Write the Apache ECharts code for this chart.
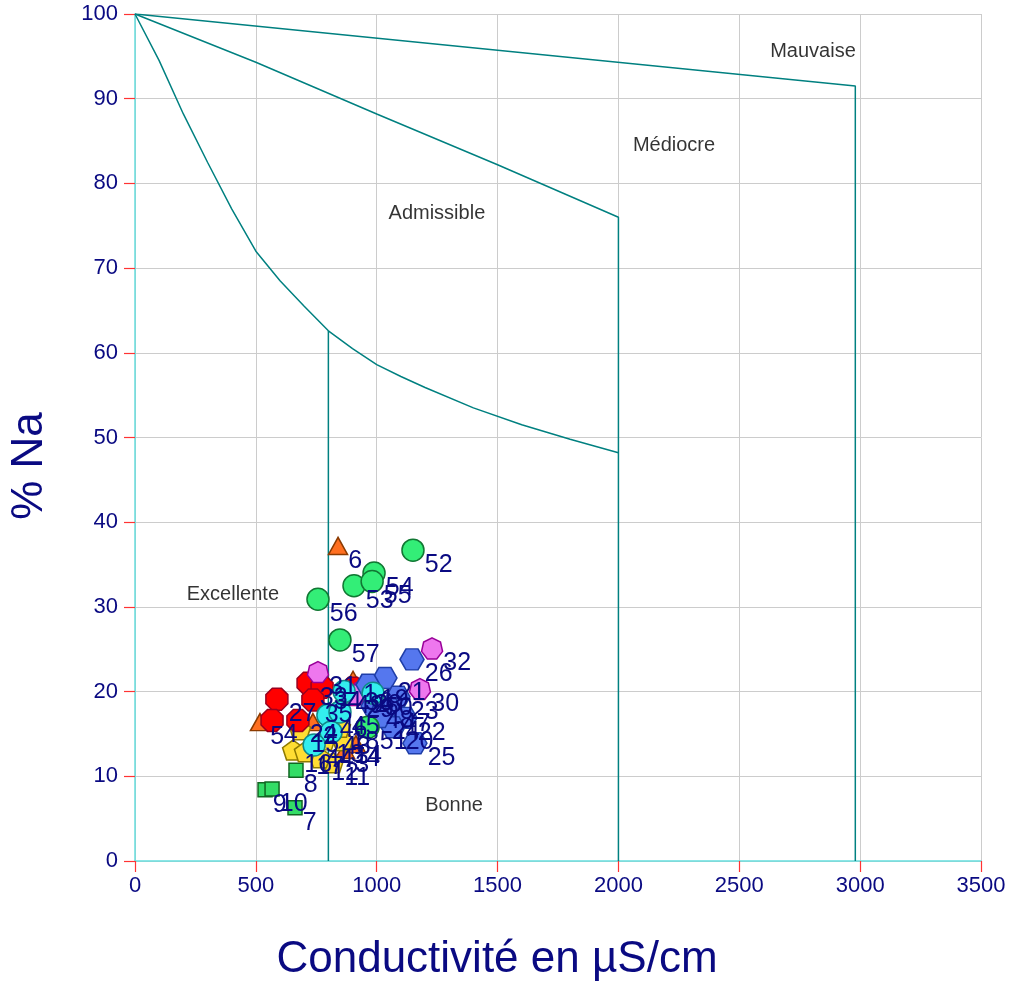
<!DOCTYPE html>
<html><head><meta charset="utf-8">
<script src="https://cdn.jsdelivr.net/npm/echarts@6/dist/echarts.min.js"></script>
<style>html,body{margin:0;padding:0;background:#fff}#c{width:1014px;height:989px}</style>
</head><body><div id="c"></div>
<script>
// ---- data ----
const xTicks = [0,500,1000,1500,2000,2500,3000,3500];
const yTicks = [0,10,20,30,40,50,60,70,80,90,100];
const xTitle = 'Conductivité en µS/cm';
const yTitle = '% Na';

const triX = [902, 736, 869, 914, 517, 840];
const triY = [21.4, 16.4, 13.1, 13.8, 16.4, 37.2];
const triLab = ['1','2','3','4','5','6'];

const sqX = [662, 666, 538, 567];
const sqY = [6.3, 10.7, 8.4, 8.5];
const sqLab = ['7','8','9','10'];

const penX = [819, 765, 786, 860, 683, 654, 703, 848];
const penY = [11.6, 12.2, 14.3, 14.2, 15.5, 13.1, 12.9, 15.8];
const penLab = ['11','12','13','14','15','16','17','18'];

const redX = [587, 716, 774, 736, 567, 674, 902];
const redY = [19.1, 21.0, 20.5, 19.0, 16.6, 16.6, 20.4];
const redLab = ['27','33','34','35','4','24','36'];

const magX = [1229, 1179, 757, 943, 910];
const magY = [25.1, 20.3, 22.3, 20.2, 19.6];
const magLab = ['32','30','31','28','29'];

const hexX = [1146, 1034, 964, 1088, 1055, 1117, 1067, 1158, 985, 1010];
const hexY = [23.8, 21.6, 20.8, 19.4, 17.9, 16.9, 15.8, 13.9, 18.3, 17.0];
const hexLab = ['26','21','19','23','47','22','20','25','48','24'];

const cyX = [865, 985, 798, 811, 741, 848];
const cyY = [20.0, 19.8, 17.2, 15.2, 13.7, 17.6];
const cyLab = ['49','50','46','43','44','45'];

const gcX = [1150, 906, 989, 981, 757, 848, 964];
const gcY = [36.7, 32.5, 34.0, 33.0, 30.9, 26.1, 15.8];
const gcLab = ['52','53','54','55','56','57','51'];

// class boundaries
const mauvaiseX = [0, 2980, 2980];
const mauvaiseY = [100, 91.5, 0];
const mediocreX = [0, 500, 1000, 1500, 2000, 2000];
const mediocreY = [100, 94.3, 88.2, 82.2, 76, 0];
const admissX = [0,100,200,300,400,500,600,700,800,900,1000,1100,1200,1400,1600,1800,2000];
const admissY = [100,94.5,88.2,82.5,77,72,68.5,65.5,62.6,60.5,58.6,57.2,55.9,53.5,51.5,49.8,48.2];
const bonneX = [800, 800];
const bonneY = [62.6, 0];

const zoneNames = ['Mauvaise','Médiocre','Admissible','Excellente','Bonne'];
const zoneX = [2805, 2230, 1249, 405, 1320];
const zoneY = [95.6, 84.5, 76.5, 31.5, 6.5];

// ---- build ----
const FONT = 'Liberation Sans, Arial, sans-serif';
const NAVY = '#0a0a82';
function pts(xs, ys, labs){ return xs.map((x,i)=>({value:[x, ys[i]], name: labs ? labs[i] : ''})); }
function line(xs, ys){
  return {type:'line', data: xs.map((x,i)=>[x, ys[i]]), showSymbol:false, symbol:'none',
    lineStyle:{color:'#008080', width:1.5}, silent:true, z:3, animation:false};
}
const HEX = 'path://M0,43.3 L25,0 L75,0 L100,43.3 L75,86.6 L25,86.6 Z';
const OCT = 'path://M29.3,0 L70.7,0 L100,29.3 L100,70.7 L70.7,100 L29.3,100 L0,70.7 L0,29.3 Z';
const HEPT = 'path://M50,0 L89.1,18.8 L98.7,61.1 L71.7,95 L28.3,95 L1.3,61.1 L10.9,18.8 Z';
const PENT = 'path://M50,0 L97.6,34.5 L79.4,90.5 L20.6,90.5 L2.4,34.5 Z';
const TRI = 'path://M50,0 L100,86.6 L0,86.6 Z';

function scat(xs, ys, labs, symbol, size, fill, border){
  return {type:'scatter', data: pts(xs, ys, labs), symbol, symbolSize:size,
    itemStyle:{color:fill, borderColor:border, borderWidth:1.5, opacity:1},
    label:{show:true, formatter:'{b}', position:'right', distance:0, offset:[0,15],
      color:NAVY, fontSize:25, fontFamily:FONT},
    z:5, animation:false};
}

const chart = echarts.init(document.getElementById('c'), null, {renderer:'canvas'});
chart.setOption({
  backgroundColor:'#ffffff',
  animation:false,
  grid:{left:135, right:33, top:14, bottom:128, containLabel:false},
  graphic:[
    {type:'text', x:497, y:960, style:{text:xTitle, fill:NAVY, font:'44px ' + FONT,
      textAlign:'center', textVerticalAlign:'middle'}},
    {type:'text', x:30, y:466, rotation:Math.PI/2, style:{text:yTitle, fill:NAVY, font:'44px ' + FONT,
      textAlign:'center', textVerticalAlign:'middle'}}
  ],
  xAxis:{type:'value', min:0, max:3500, interval:500,
    axisLine:{show:true, onZero:false, lineStyle:{color:'#66dede', width:1.5}},
    axisTick:{show:true, inside:false, length:11, lineStyle:{color:'#ff3333', width:1.2}},
    axisLabel:{color:NAVY, fontSize:22, fontFamily:FONT, margin:14,
      formatter:v=> xTicks.includes(v) ? String(v) : ''},
    splitLine:{show:true, lineStyle:{color:'#cccccc', width:1}}},
  yAxis:{type:'value', min:0, max:100, interval:10,
    axisLine:{show:true, onZero:false, lineStyle:{color:'#66dede', width:1.5}},
    axisTick:{show:true, inside:false, length:11, lineStyle:{color:'#ff3333', width:1.2}},
    axisLabel:{color:NAVY, fontSize:22, fontFamily:FONT, margin:17,
      formatter:v=> yTicks.includes(v) ? String(v) : ''},
    splitLine:{show:true, lineStyle:{color:'#cccccc', width:1}}},
  series:[
    line(mauvaiseX, mauvaiseY),
    line(mediocreX, mediocreY),
    line(admissX, admissY),
    line(bonneX, bonneY),
    {type:'scatter', data: pts(zoneX, zoneY, zoneNames), symbolSize:0, silent:true,
      label:{show:true, formatter:'{b}', position:'inside', color:'#000000', fontSize:20, fontFamily:FONT},
      z:4, animation:false},
    scat(triX, triY, triLab, TRI, [19,17], '#ff6f20', '#8b3a00'),
    scat(sqX, sqY, sqLab, 'rect', 14, '#33dd66', '#116622'),
    scat(penX, penY, penLab, PENT, [21,20], '#ffdd33', '#8f7a00'),
    scat(redX, redY, redLab, OCT, 22, '#ff0000', '#99001f'),
    scat(magX, magY, magLab, HEPT, [21,21], '#ee77ee', '#990099'),
    scat(hexX, hexY, hexLab, HEX, [24,21], '#5577ee', '#1f3ea8'),
    scat(cyX, cyY, cyLab, 'circle', 22, '#33eeee', '#118888'),
    scat(gcX, gcY, gcLab, 'circle', 22, '#33ee77', '#117733')
  ]
});
</script></body></html>
